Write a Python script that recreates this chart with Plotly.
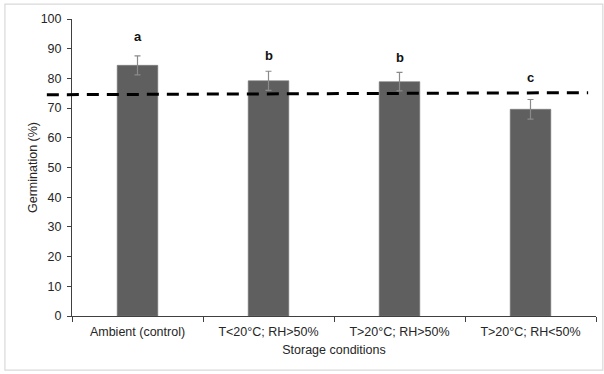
import plotly.graph_objects as go

categories = ["Ambient (control)", "T<20°C; RH>50%", "T>20°C; RH>50%", "T>20°C; RH<50%"]
germination = [84.4, 79.2, 78.9, 69.6]
errors = [3.2, 3.2, 3.1, 3.3]
letters = ["a", "b", "b", "c"]
letter_heights = [92.4, 86.0, 85.1, 78.4]
reference_start = 74.5
reference_end = 75.2

FONT = "Liberation Sans, Arial, sans-serif"
TXT = "#262626"

fig = go.Figure()
fig.add_trace(go.Bar(
    x=categories, y=germination, width=0.31,
    marker=dict(color="#5f5f5f", line=dict(color="#7a7a7a", width=0.6)),
    error_y=dict(type="data", array=errors, visible=True, color="#8a8a8a", thickness=1.2, width=3),
    showlegend=False, hoverinfo="skip",
))

for c, lab, h in zip(categories, letters, letter_heights):
    fig.add_annotation(x=c, y=h, text=f"<b>{lab}</b>", showarrow=False,
                       yanchor="bottom", yshift=-4, font=dict(family=FONT, size=13, color="#111"))

# dashed reference line (extends left beyond the y axis, as in the original)
ymax = 100.0
fig.add_shape(type="line", xref="paper", yref="paper",
              x0=-0.048, x1=0.985, y0=reference_start / ymax, y1=reference_end / ymax,
              line=dict(color="black", width=3, dash="12px,8px"))

# outer light-gray frame
fig.add_shape(type="rect", xref="paper", yref="paper",
              x0=-0.128, x1=1.013, y0=-0.182, y1=1.05,
              line=dict(color="#d9d9d9", width=1.2), fillcolor="rgba(0,0,0,0)", layer="below")

fig.update_layout(
    width=604, height=374,
    margin=dict(l=72, r=8, t=19, b=58),
    paper_bgcolor="white", plot_bgcolor="white",
    font=dict(family=FONT, size=12, color=TXT),
    xaxis=dict(
        type="category", tickson="boundaries", ticks="outside", ticklen=5, tickcolor="#404040",
        showline=True, linecolor="#404040", linewidth=1, showgrid=False, automargin=False,
        tickfont=dict(family=FONT, size=12.5, color=TXT), ticklabelstandoff=4,
        title=dict(text="Storage conditions", font=dict(family=FONT, size=12.5, color=TXT), standoff=7),
        range=[-0.5, 3.5],
    ),
    yaxis=dict(
        range=[0, 100], dtick=10, ticks="outside", ticklen=4, tickcolor="#404040",
        showline=True, linecolor="#404040", linewidth=1, showgrid=False, zeroline=False,
        automargin=False, ticklabelstandoff=3,
        tickfont=dict(family=FONT, size=12.5, color=TXT),
        title=dict(text="Germination (%)", font=dict(family=FONT, size=12.5, color=TXT), standoff=0),
    ),
)

fig.write_html("out.html", config={"displayModeBar": False},
               post_script="document.body.style.margin='0';document.body.style.padding='0';")
